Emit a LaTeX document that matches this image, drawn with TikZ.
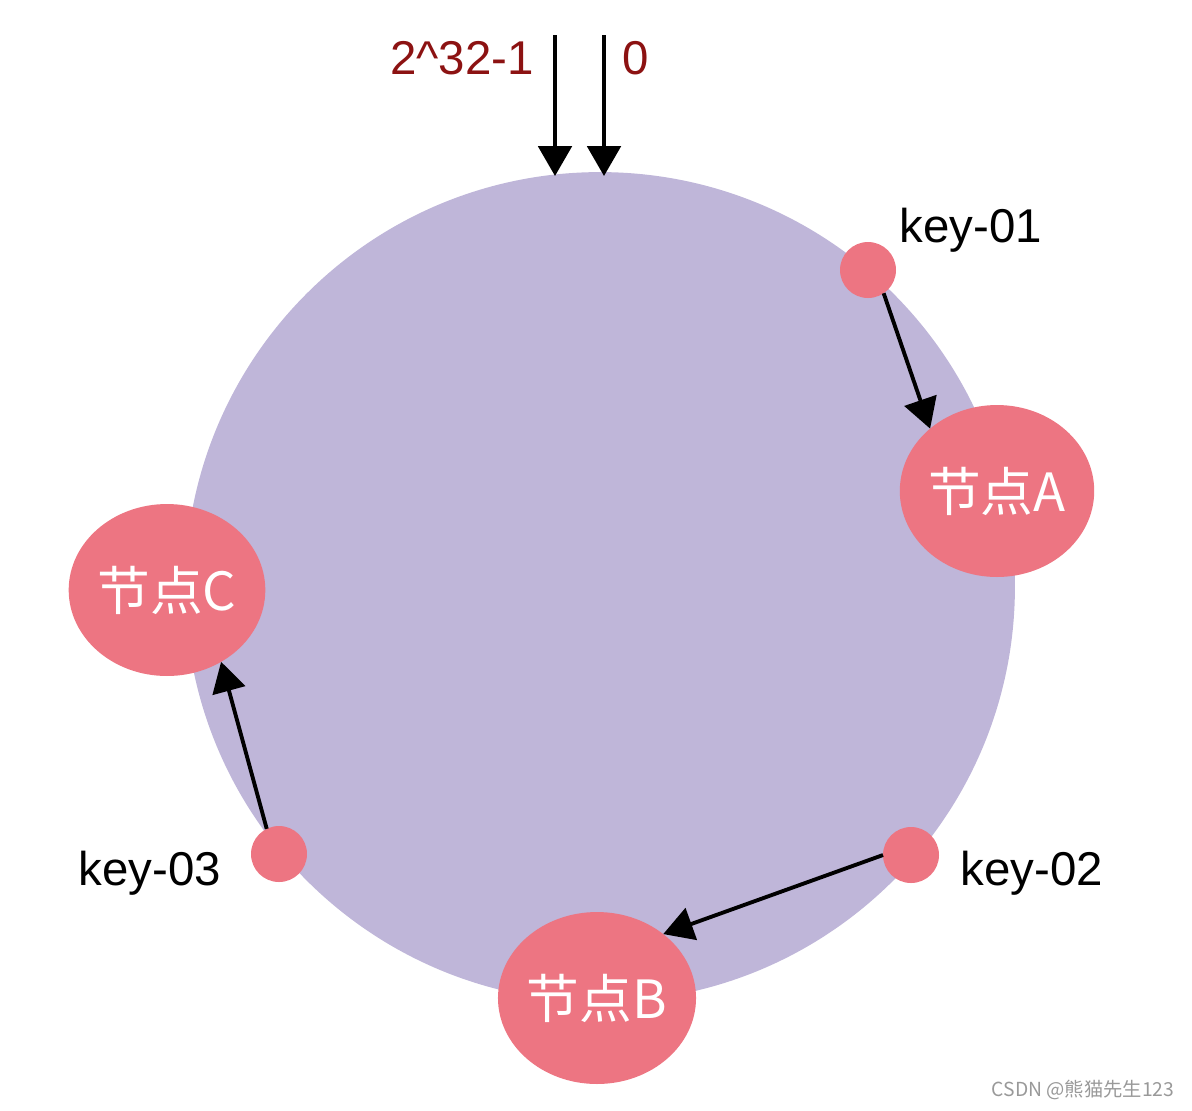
\documentclass[tikz,border=0pt]{standalone}
\usepackage{fontspec}
\setmainfont{Liberation Sans}
\newfontfamily\cjk{Noto Sans CJK SC}
\usepackage{tikz}
\usetikzlibrary{arrows.meta,shapes.geometric}
\definecolor{ring}{RGB}{191,182,217}
\definecolor{server}{RGB}{237,117,130}
\definecolor{hashred}{RGB}{140,18,18}

\begin{document}
\begin{tikzpicture}[x=0.02cm, y=-0.02cm,
  every node/.style={outer sep=0pt, inner sep=0pt},
  server/.style={ellipse, fill=server, text=white, minimum width=3.88cm, minimum height=3.44cm, font=\cjk\fontsize{30}{30}\selectfont},
  keydot/.style={circle, fill=server, minimum size=1.12cm},
  keylabel/.style={font=\fontsize{27}{27}\selectfont},
  link/.style={line width=2.2pt, -{Triangle[width=19pt, length=17pt]}}]
\useasboundingbox (0,0) rectangle (1192,1110);

\fill[ring] (600,587) circle (8.3cm);

\node[server] (A) at (997,491) {节点A};
\node[server] (B) at (597,998) {节点B};
\node[server] (C) at (167,590) {节点C};

\node[keydot] (k1) at (868,270) {};
\node[keydot] (k2) at (911,855) {};
\node[keydot] (k3) at (279,854) {};

\node[keylabel] (k1label) at (971,230) {key-01};
\node[keylabel] (k2label) at (1032,873) {key-02};
\node[keylabel] (k3label) at (150,873) {key-03};

\node[text=hashred, font=\fontsize{27}{27}\selectfont] (max) at (462,58) {2\^{}32-1};
\node[text=hashred, font=\fontsize{27}{27}\selectfont] (zero) at (636,58) {0};

\coordinate (maxtop) at (555,35);
\coordinate (maxend) at (555,176);
\coordinate (zerotop) at (604,35);
\coordinate (zeroend) at (604,176);
\draw[link] (maxtop) -- (maxend);
\draw[link] (zerotop) -- (zeroend);

\draw[link] (k1.-56) -- (A.137);
\draw[link] (k2.180) -- (B.44);
\draw[link] (k3.116) -- (C.-53);

\node[text=gray!80, font=\cjk\fontsize{11}{11}\selectfont] (mark) at (1083,1090) {CSDN @熊猫先生123};
\end{tikzpicture}
\end{document}
